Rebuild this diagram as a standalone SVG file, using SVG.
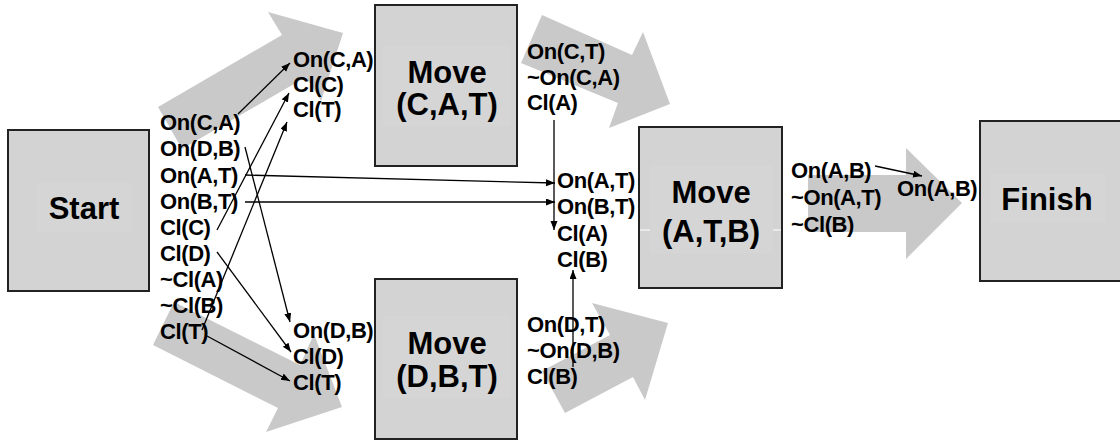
<svg xmlns="http://www.w3.org/2000/svg" width="1120" height="441" viewBox="0 0 1120 441">
  <style>
    .box { fill: #d3d3d3; stroke: #222; stroke-width: 2; }
    .inner { fill: #d5d5d5; stroke: none; }
    .flow { fill: #c9c9c9; stroke: none; }
    .lbl { font-family: "Liberation Sans", Arial, sans-serif; font-weight: bold; font-size: 22px; letter-spacing: -0.4px; fill: #000; }
    .big { font-family: "Liberation Sans", Arial, sans-serif; font-weight: bold; font-size: 31px; fill: #000; text-anchor: middle; }
    .link { stroke: #000; stroke-width: 1.3; fill: none; marker-end: url(#head); }
  </style>
  <defs>
    <marker id="head" markerUnits="userSpaceOnUse" markerWidth="10" markerHeight="8" refX="9" refY="3.5" orient="auto">
      <path d="M0,0 L9,3.5 L0,7 Z" fill="#000"/>
    </marker>
  </defs>
  <rect width="1120" height="441" fill="#fff"/>

  <!-- broad grey flow arrows -->
  <g id="flows">
    <polygon class="flow" points="158,107 282,35 268,12 343,33 321,101 306,77 182,149"/>
    <polygon class="flow" points="153,345 174,302 300,365 314,334 342,407 266,432 278,408"/>
    <polygon class="flow" points="521,63 542,15 632,55 643,32 670,104 609,128 618,103"/>
    <polygon class="flow" points="565,413 542,371 610,335 592,303 668,323 645,400 633,377"/>
    <polygon class="flow" points="808,175 906,175 906,148 962,203 906,259 906,232 808,232"/>
  </g>

  <!-- operator boxes -->
  <g id="start">
    <rect class="box" x="8" y="130" width="141" height="161"/>
    <rect class="inner" x="37" y="183" width="95" height="49"/>
    <text class="big" x="84" y="219">Start</text>
  </g>
  <g id="move-cat">
    <rect class="box" x="375" y="5" width="142" height="161"/>
    <rect class="inner" x="383" y="45" width="127" height="81"/>
    <text class="big" x="447" y="83">Move</text>
    <text class="big" x="447" y="115">(C,A,T)</text>
  </g>
  <g id="move-dbt">
    <rect class="box" x="375" y="279" width="142" height="160"/>
    <rect class="inner" x="383" y="316" width="127" height="82"/>
    <text class="big" x="447" y="354">Move</text>
    <text class="big" x="447" y="387">(D,B,T)</text>
  </g>
  <g id="move-atb">
    <rect class="box" x="639" y="127" width="143" height="161"/>
    <rect class="inner" x="650" y="165" width="123" height="88"/>
    <line x1="640" y1="230" x2="650" y2="230" stroke="#fff" stroke-width="1"/>
    <line x1="773" y1="230" x2="781" y2="230" stroke="#fff" stroke-width="1"/>
    <text class="big" x="711" y="203">Move</text>
    <text class="big" x="711" y="242">(A,T,B)</text>
  </g>
  <g id="finish">
    <rect class="box" x="980" y="121" width="160" height="160"/>
    <rect class="inner" x="990" y="173" width="115" height="50"/>
    <text class="big" x="1047" y="210">Finish</text>
  </g>

  <!-- condition lists -->
  <g id="start-effects" class="lbl">
    <text x="160" y="130">On(C,A)</text>
    <text x="160" y="156">On(D,B)</text>
    <text x="160" y="182.5">On(A,T)</text>
    <text x="160" y="208.5">On(B,T)</text>
    <text x="160" y="234.5">Cl(C)</text>
    <text x="160" y="261">Cl(D)</text>
    <text x="160" y="287">~Cl(A)</text>
    <text x="160" y="313">~Cl(B)</text>
    <text x="160" y="339">Cl(T)</text>
  </g>
  <g id="cat-pre" class="lbl">
    <text x="293" y="67">On(C,A)</text>
    <text x="293" y="92">Cl(C)</text>
    <text x="293" y="117">Cl(T)</text>
  </g>
  <g id="dbt-pre" class="lbl">
    <text x="293" y="338">On(D,B)</text>
    <text x="293" y="364">Cl(D)</text>
    <text x="293" y="390">Cl(T)</text>
  </g>
  <g id="cat-post" class="lbl">
    <text x="527" y="59">On(C,T)</text>
    <text x="527" y="85">~On(C,A)</text>
    <text x="527" y="110">Cl(A)</text>
  </g>
  <g id="dbt-post" class="lbl">
    <text x="527" y="332">On(D,T)</text>
    <text x="527" y="358">~On(D,B)</text>
    <text x="527" y="384">Cl(B)</text>
  </g>
  <g id="atb-pre" class="lbl">
    <text x="557" y="188">On(A,T)</text>
    <text x="557" y="214">On(B,T)</text>
    <text x="557" y="241">Cl(A)</text>
    <text x="557" y="267">Cl(B)</text>
  </g>
  <g id="atb-post" class="lbl">
    <text x="791" y="178">On(A,B)</text>
    <text x="791" y="205">~On(A,T)</text>
    <text x="791" y="232">~Cl(B)</text>
  </g>
  <g id="finish-pre" class="lbl">
    <text x="897" y="196">On(A,B)</text>
  </g>

  <!-- causal links -->
  <g id="connectors">
    <line class="link" x1="238" y1="114" x2="290" y2="63"/>
    <line class="link" x1="217" y1="230" x2="289" y2="93"/>
    <line class="link" x1="202" y1="330" x2="287" y2="122"/>
    <line class="link" x1="245" y1="147" x2="290" y2="322"/>
    <line class="link" x1="217" y1="252" x2="291" y2="352"/>
    <line class="link" x1="207" y1="336" x2="290" y2="381"/>
    <line class="link" x1="245" y1="175" x2="555" y2="183"/>
    <line class="link" x1="245" y1="202" x2="555" y2="202"/>
    <line class="link" x1="554" y1="120" x2="554" y2="230"/>
    <line class="link" x1="573" y1="367" x2="573" y2="270"/>
    <line class="link" x1="875" y1="166" x2="922" y2="176"/>
  </g>
</svg>
